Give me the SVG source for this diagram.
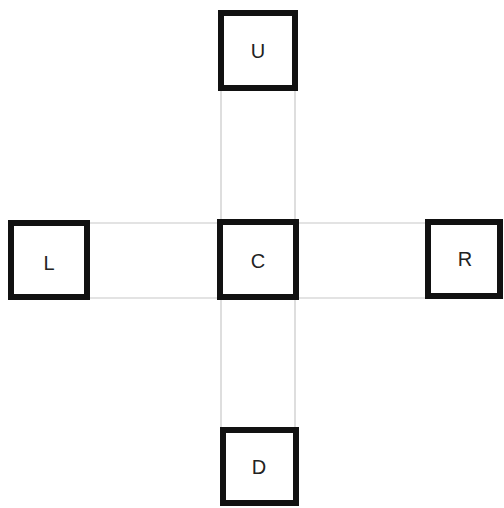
<svg xmlns="http://www.w3.org/2000/svg" width="504" height="508" viewBox="0 0 504 508">
<style>
.box{fill:#fff;stroke:#111;stroke-width:6}
.lbl{font-family:"Liberation Sans",Arial,sans-serif;font-size:20px;fill:#222;text-anchor:middle;dominant-baseline:central}
.ln{stroke:#c8c8c8;stroke-width:1.2;fill:none}
</style>
<rect width="504" height="508" fill="#fff"/>
<g id="connectors">
<line class="ln" x1="90" y1="223" x2="425" y2="223"/>
<line class="ln" x1="90" y1="298" x2="425" y2="298"/>
<line class="ln" x1="221" y1="90" x2="221" y2="427"/>
<line class="ln" x1="295" y1="90" x2="295" y2="427"/>
</g>
<g id="U"><rect class="box" x="221" y="13" width="74" height="75"/><text class="lbl" x="258" y="51">U</text></g>
<g id="L"><rect class="box" x="11" y="223" width="76" height="74"/><text class="lbl" x="49" y="263">L</text></g>
<g id="C"><rect class="box" x="220" y="222" width="76" height="75"/><text class="lbl" x="258" y="261">C</text></g>
<g id="R"><rect class="box" x="428" y="222" width="72" height="74"/><text class="lbl" x="465" y="259">R</text></g>
<g id="D"><rect class="box" x="223" y="430" width="73" height="73"/><text class="lbl" x="259" y="467">D</text></g>
</svg>
